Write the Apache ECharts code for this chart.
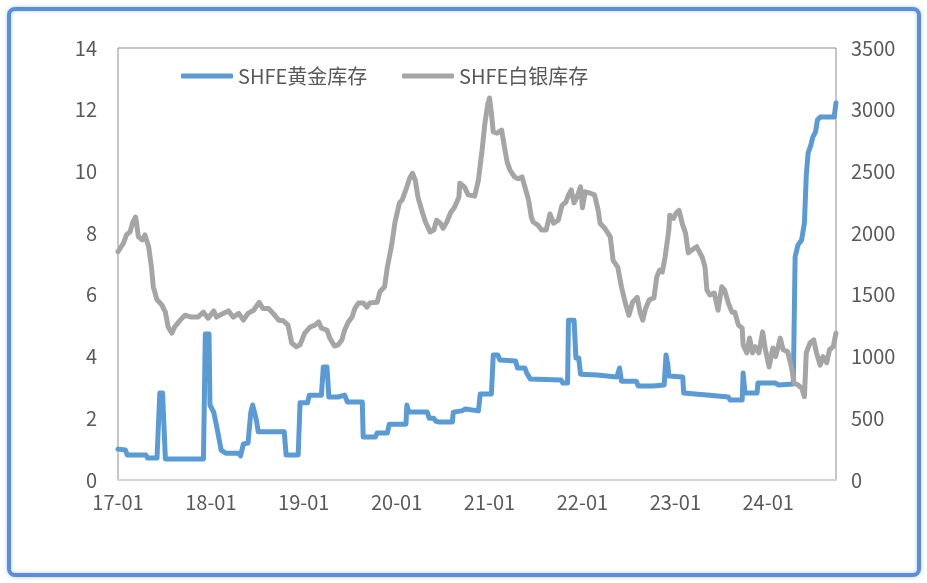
<!DOCTYPE html>
<html>
<head>
<meta charset="utf-8">
<script src="https://cdn.jsdelivr.net/npm/echarts@6/dist/echarts.min.js"></script>
<style>
html,body{margin:0;padding:0;background:#fff;}
#chart{width:927px;height:583px;}
</style>
</head>
<body>
<div id="chart"></div>
<script>
// Series names
const goldName = 'SHFE黄金库存';
const silverName = 'SHFE白银库存';

// Year axis (decimal years); tick labels every year start
const yearTicks = [2017, 2018, 2019, 2020, 2021, 2022, 2023, 2024];
const xMin = 2017, xMax = 2024.73;

// Gold inventory (left axis, tonnes)
const goldDates = [2017.00,2017.08,2017.10,2017.30,2017.32,2017.42,2017.45,2017.48,2017.51,2017.92,
  2017.94,2017.98,2017.99,2018.03,2018.07,2018.11,2018.16,2018.30,2018.32,2018.35,
  2018.40,2018.43,2018.45,2018.49,2018.51,2018.79,2018.81,2018.94,2018.96,2019.04,
  2019.06,2019.19,2019.21,2019.25,2019.27,2019.37,2019.39,2019.44,2019.47,2019.63,
  2019.64,2019.77,2019.79,2019.90,2019.92,2020.10,2020.11,2020.13,2020.33,2020.35,
  2020.40,2020.42,2020.45,2020.60,2020.61,2020.70,2020.74,2020.88,2020.90,2021.02,
  2021.04,2021.09,2021.11,2021.28,2021.30,2021.38,2021.40,2021.44,2021.77,2021.79,
  2021.84,2021.85,2021.91,2021.93,2021.96,2021.98,2022.16,2022.18,2022.37,2022.40,
  2022.42,2022.58,2022.60,2022.76,2022.78,2022.88,2022.90,2022.92,2022.93,2023.08,
  2023.09,2023.37,2023.57,2023.59,2023.72,2023.73,2023.75,2023.88,2023.89,2024.08,
  2024.11,2024.27,2024.29,2024.32,2024.36,2024.39,2024.41,2024.43,2024.46,2024.48,
  2024.51,2024.53,2024.56,2024.71,2024.73];
const goldValues = [1.00,0.97,0.81,0.81,0.71,0.71,2.82,2.82,0.68,0.68,
  4.73,4.73,2.43,2.20,1.62,0.97,0.87,0.87,0.78,1.17,
  1.20,2.20,2.43,1.94,1.56,1.56,0.81,0.81,2.50,2.50,
  2.75,2.75,3.66,3.66,2.69,2.69,2.75,2.75,2.53,2.53,
  1.39,1.39,1.52,1.52,1.81,1.81,2.43,2.20,2.20,2.00,
  2.00,1.91,1.88,1.88,2.20,2.24,2.30,2.24,2.79,2.79,
  4.05,4.05,3.89,3.86,3.63,3.63,3.47,3.27,3.24,3.14,
  3.14,5.18,5.18,3.95,3.95,3.43,3.40,3.34,3.34,3.63,
  3.20,3.20,3.05,3.05,3.08,3.08,4.05,3.73,3.37,3.34,
  2.82,2.75,2.69,2.59,2.59,3.47,2.82,2.82,3.14,3.14,
  3.08,3.11,7.23,7.61,7.78,8.33,9.88,10.60,10.86,11.11,
  11.28,11.67,11.76,11.76,12.22];

// Silver inventory (right axis, tonnes)
const silverDates = [2017.00,2017.06,2017.09,2017.13,2017.16,2017.19,2017.22,2017.26,2017.29,2017.33,
  2017.36,2017.38,2017.42,2017.47,2017.51,2017.54,2017.58,2017.61,2017.67,2017.72,
  2017.79,2017.86,2017.92,2017.97,2018.03,2018.06,2018.12,2018.19,2018.24,2018.30,
  2018.35,2018.40,2018.46,2018.52,2018.56,2018.62,2018.67,2018.73,2018.78,2018.83,
  2018.87,2018.92,2018.96,2019.01,2019.07,2019.12,2019.16,2019.19,2019.25,2019.28,
  2019.33,2019.37,2019.41,2019.44,2019.48,2019.52,2019.55,2019.59,2019.64,2019.68,
  2019.71,2019.79,2019.82,2019.87,2019.90,2019.93,2019.95,2019.98,2020.03,2020.06,
  2020.11,2020.14,2020.17,2020.20,2020.23,2020.27,2020.31,2020.36,2020.40,2020.43,
  2020.47,2020.50,2020.54,2020.58,2020.62,2020.67,2020.68,2020.73,2020.77,2020.84,
  2020.88,2020.92,2020.95,2020.98,2021.00,2021.02,2021.04,2021.08,2021.13,2021.16,
  2021.19,2021.22,2021.27,2021.31,2021.35,2021.38,2021.42,2021.45,2021.47,2021.52,
  2021.56,2021.61,2021.65,2021.69,2021.74,2021.78,2021.82,2021.85,2021.88,2021.91,
  2021.94,2021.98,2022.00,2022.03,2022.08,2022.13,2022.17,2022.19,2022.24,2022.30,
  2022.33,2022.38,2022.42,2022.46,2022.50,2022.54,2022.59,2022.62,2022.65,2022.68,
  2022.72,2022.77,2022.80,2022.83,2022.86,2022.89,2022.93,2022.94,2022.98,2023.01,
  2023.04,2023.08,2023.11,2023.14,2023.18,2023.23,2023.29,2023.32,2023.34,2023.37,
  2023.42,2023.46,2023.50,2023.53,2023.57,2023.61,2023.64,2023.68,2023.72,2023.73,
  2023.77,2023.80,2023.83,2023.86,2023.90,2023.94,2023.97,2024.01,2024.05,2024.08,
  2024.13,2024.16,2024.21,2024.25,2024.28,2024.32,2024.36,2024.39,2024.41,2024.45,
  2024.49,2024.52,2024.56,2024.59,2024.63,2024.66,2024.70,2024.73];
const silverValues = [1850,1920,1985,2010,2090,2130,1970,1945,1985,1890,
  1725,1565,1460,1420,1360,1240,1190,1240,1295,1335,
  1320,1320,1360,1310,1370,1320,1345,1370,1320,1350,
  1295,1350,1375,1440,1390,1390,1350,1295,1290,1255,
  1110,1080,1095,1190,1240,1255,1280,1230,1215,1150,
  1085,1095,1135,1215,1280,1320,1390,1435,1435,1400,
  1435,1440,1525,1565,1725,1840,1920,2080,2245,2270,
  2375,2445,2485,2430,2290,2185,2090,2010,2025,2105,
  2080,2040,2090,2165,2205,2290,2405,2375,2310,2300,
  2430,2675,2890,3040,3095,2970,2820,2810,2835,2700,
  2575,2510,2455,2440,2455,2375,2270,2130,2090,2065,
  2025,2025,2155,2080,2105,2225,2250,2310,2350,2245,
  2290,2375,2205,2335,2325,2310,2185,2080,2040,1970,
  1780,1725,1565,1440,1335,1440,1480,1360,1295,1390,
  1460,1475,1645,1700,1685,1805,2025,2145,2120,2165,
  2185,2065,2000,1840,1865,1890,1805,1725,1540,1500,
  1515,1375,1565,1540,1435,1360,1360,1255,1230,1095,
  1030,1150,1030,1080,1030,1200,1055,915,1070,1000,
  1150,1055,1040,915,785,770,745,675,1030,1110,
  1135,1030,930,1000,950,1055,1080,1190];

const goldData = goldDates.map((d, i) => [d, goldValues[i]]);
const silverData = silverDates.map((d, i) => [d, silverValues[i]]);

const FONT = '"Noto Sans CJK SC", "Noto Sans", sans-serif';
const labelColor = '#595959';

const chart = echarts.init(document.getElementById('chart'), null, {renderer: 'canvas'});
chart.setOption({
  backgroundColor: '#ffffff',
  animation: false,
  graphic: [{
    type: 'rect',
    shape: {x: 9, y: 9, width: 910, height: 566, r: 6},
    style: {fill: 'none', stroke: '#5b8ddb', lineWidth: 4, shadowBlur: 4, shadowColor: 'rgba(91,141,219,0.45)'},
    z: 100
  }],
  legend: [{
    data: [{name: goldName, icon: 'roundRect'}],
    left: 176, top: 61,
    itemWidth: 52, itemHeight: 5,
    textStyle: {fontSize: 20, color: labelColor, fontFamily: FONT}
  }, {
    data: [{name: silverName, icon: 'roundRect'}],
    left: 397, top: 61,
    itemWidth: 52, itemHeight: 5,
    textStyle: {fontSize: 20, color: labelColor, fontFamily: FONT}
  }],
  grid: {
    left: 118, right: 91, top: 48, bottom: 103,
    show: true, borderColor: '#8c8c8c', borderWidth: 1, backgroundColor: 'transparent'
  },
  xAxis: {
    type: 'value', min: xMin, max: xMax, interval: 1,
    axisLine: {show: true, lineStyle: {color: '#d4d4d4', width: 2}},
    axisTick: {show: false},
    splitLine: {show: false},
    axisLabel: {
      margin: 12, fontSize: 20, color: labelColor, fontFamily: FONT,
      showMaxLabel: false,
      formatter: v => yearTicks.indexOf(v) >= 0 ? String(v).slice(2) + '-01' : ''
    }
  },
  yAxis: [{
    type: 'value', min: 0, max: 14, interval: 2,
    axisLine: {show: false}, axisTick: {show: false}, splitLine: {show: false},
    axisLabel: {margin: 21, fontSize: 20, color: labelColor, fontFamily: FONT, formatter: v => String(v)}
  }, {
    type: 'value', min: 0, max: 3500, interval: 500,
    axisLine: {show: false}, axisTick: {show: false}, splitLine: {show: false},
    axisLabel: {margin: 15, fontSize: 20, color: labelColor, fontFamily: FONT, formatter: v => String(v)}
  }],
  series: [{
    name: goldName, type: 'line', yAxisIndex: 0, data: goldData,
    symbol: 'none', smooth: false,
    itemStyle: {color: '#5b9bd5'},
    lineStyle: {color: '#5b9bd5', width: 5, cap: 'round', join: 'round'}
  }, {
    name: silverName, type: 'line', yAxisIndex: 1, data: silverData,
    symbol: 'none', smooth: false,
    itemStyle: {color: '#a5a5a5'},
    lineStyle: {color: '#a5a5a5', width: 5, cap: 'round', join: 'round'}
  }]
});
</script>
</body>
</html>
